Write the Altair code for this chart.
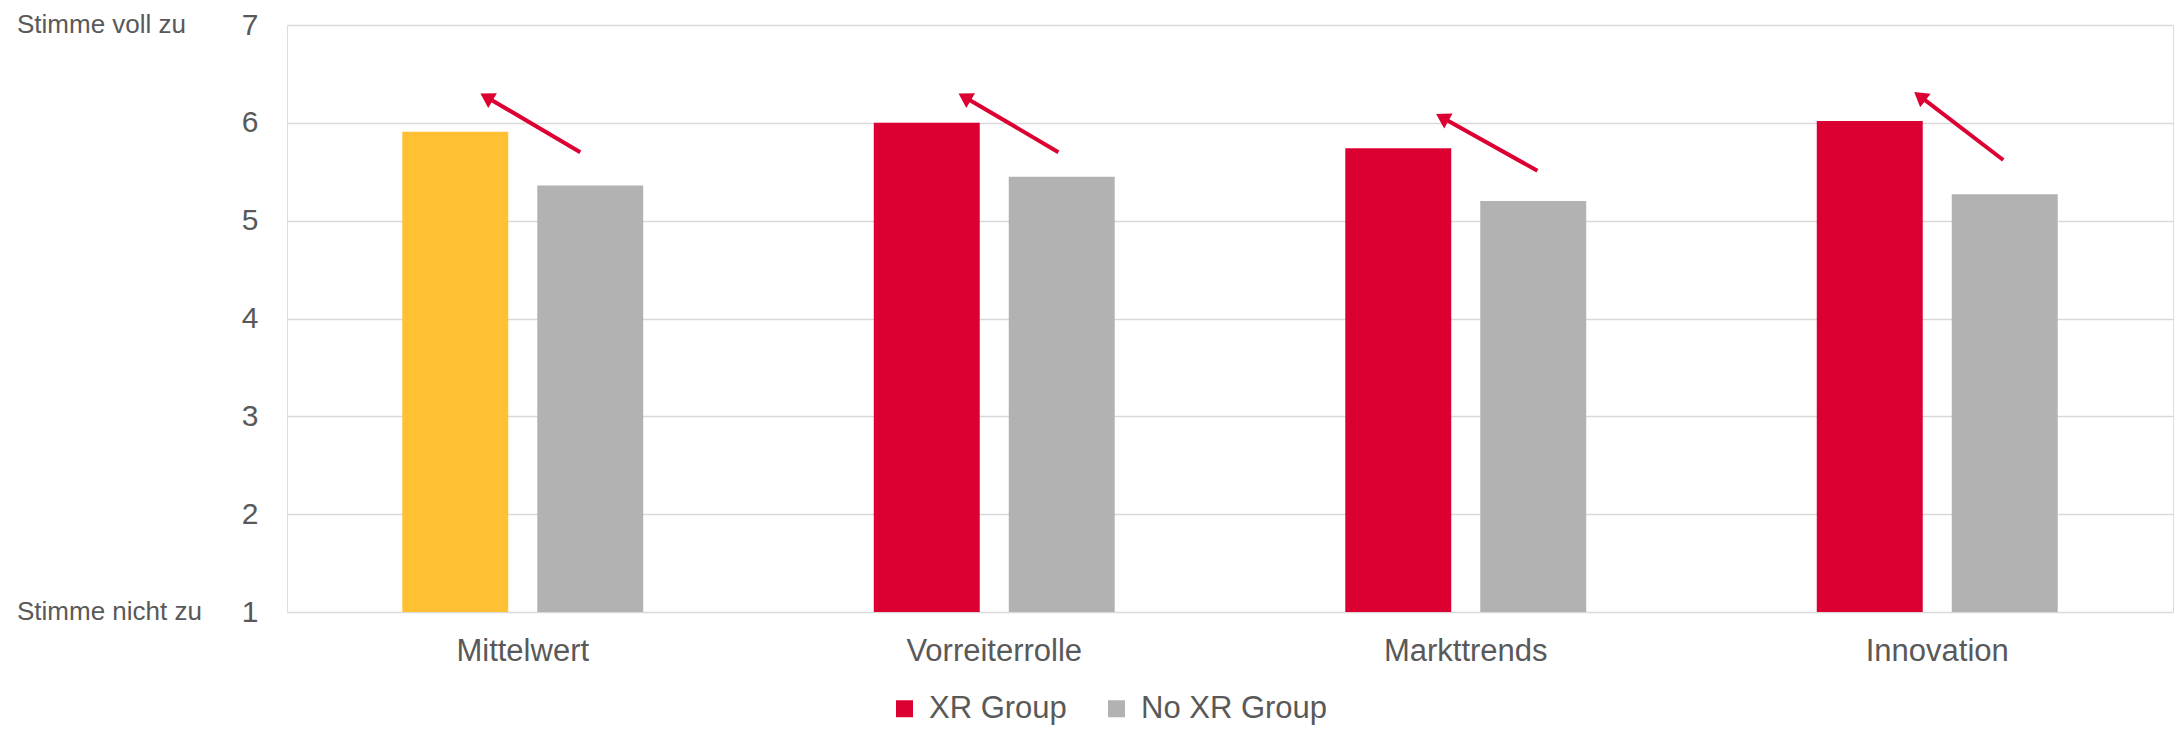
import math
import altair as alt
import pandas as pd

# ---------------- data ----------------
categories = ["Mittelwert", "Vorreiterrolle", "Markttrends", "Innovation"]
groups = ["XR Group", "No XR Group"]
xr_values = [5.91, 6.00, 5.74, 6.02]
no_xr_values = [5.36, 5.45, 5.20, 5.27]
highlight_category = "Mittelwert"

# arrows (x in category units: 0..4 across the plot, y in scale units)
arrow_x_from = [0.622, 1.636, 2.652, 3.640]
arrow_y_from = [5.70, 5.70, 5.51, 5.62]
arrow_x_to = [0.421, 1.435, 2.448, 3.461]
arrow_y_to = [6.27, 6.27, 6.06, 6.28]

side_labels = ["Stimme voll zu", "Stimme nicht zu"]
side_values = [7, 1]
y_ticks = [1, 2, 3, 4, 5, 6, 7]

# ---------------- style ----------------
RED = "#DC0032"
GRAY = "#B2B2B2"
YELLOW = "#FFC133"
TEXT = "#595959"
GRID = "#D9D9D9"
FONT = "Liberation Sans"
W, H = 1886, 587

rows = []
for c, a, b in zip(categories, xr_values, no_xr_values):
    rows.append({"category": c, "group": groups[0], "value": a})
    rows.append({"category": c, "group": groups[1], "value": b})
bars_df = pd.DataFrame(rows)

step = W / len(categories)
unit = H / (max(y_ticks) - min(y_ticks))
arrows_df = pd.DataFrame({
    "x0": arrow_x_from, "y0": arrow_y_from,
    "x1": arrow_x_to, "y1": arrow_y_to,
})
arrows_df["angle"] = [
    math.degrees(math.atan2((x1 - x0) * step, (y1 - y0) * unit)) % 360
    for x0, y0, x1, y1 in zip(arrow_x_from, arrow_y_from, arrow_x_to, arrow_y_to)
]

side_df = pd.DataFrame({"label": side_labels, "v": side_values})

yscale = alt.Scale(domain=[min(y_ticks), max(y_ticks)], nice=False, zero=False)

bars = alt.Chart(bars_df).mark_bar().encode(
    x=alt.X("category:N", sort=categories, title=None,
            scale=alt.Scale(paddingInner=0, paddingOuter=0),
            axis=alt.Axis(labelAngle=0, ticks=False, domain=False,
                          labelFontSize=31, labelColor=TEXT, labelFont=FONT,
                          labelPadding=24)),
    xOffset=alt.XOffset("group:N", sort=groups,
                        scale=alt.Scale(paddingInner=0.215, paddingOuter=0.854)),
    y=alt.Y("value:Q", scale=yscale, title=None,
            axis=alt.Axis(values=y_ticks, format="d", ticks=False, domain=False,
                          grid=True, gridColor=GRID, gridWidth=1.6,
                          labelFontSize=30, labelColor=TEXT, labelFont=FONT,
                          labelPadding=29)),
    y2=alt.datum(1),
    color=alt.condition(
        f"datum.category === '{highlight_category}' && datum.group === '{groups[0]}'",
        alt.value(YELLOW),
        alt.Color("group:N", sort=groups,
                  scale=alt.Scale(domain=groups, range=[RED, GRAY]),
                  legend=alt.Legend(orient="none", legendX=602, legendY=668,
                                    direction="horizontal", title=None,
                                    symbolType="square", symbolSize=289,
                                    symbolStrokeWidth=0, labelFontSize=31,
                                    labelColor=TEXT, labelFont=FONT,
                                    labelLimit=0,
                                    labelOffset=9, columnPadding=34, padding=0)),
    ),
)

ax = alt.Scale(domain=[0, len(categories)], nice=False, zero=False)
arrow_shape = "M0,-0.5L0.73,0.7L-0.73,0.7Z"
arrow_line = alt.Chart(arrows_df).mark_rule(color=RED, strokeWidth=4).encode(
    x=alt.X("x0:Q", scale=ax, axis=None),
    x2="x1:Q",
    y=alt.Y("y0:Q", scale=yscale, title=None),
    y2="y1:Q",
)
arrow_head = alt.Chart(arrows_df).mark_point(
    shape=arrow_shape, filled=True, size=548, color=RED, opacity=1, strokeWidth=0
).encode(
    x=alt.X("x1:Q", scale=ax, axis=None),
    y=alt.Y("y1:Q", scale=yscale, title=None),
    angle=alt.Angle("angle:Q", scale=None),
)
arrows = alt.layer(arrow_line, arrow_head)

side = alt.Chart(side_df).mark_text(
    align="left", baseline="middle", fontSize=26, color=TEXT, font=FONT
).encode(
    x=alt.value(-270),
    y=alt.Y("v:Q", scale=yscale, title=None),
    text="label:N",
)

chart = alt.layer(bars, arrows, side).resolve_scale(x="independent").properties(
    width=W, height=H,
    autosize=alt.AutoSizeParams(type="none"),
    padding={"left": 279, "top": 17, "right": 3, "bottom": 115},
).configure_view(stroke=None).configure(background="white")

chart.save("out.html", embed_options={"renderer": "svg", "actions": False})
